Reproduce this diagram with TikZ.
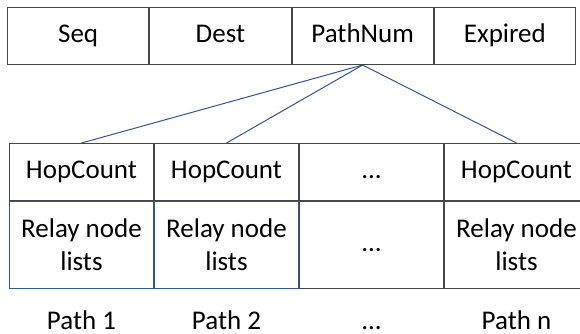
\documentclass[tikz,border=0pt]{standalone}
\usepackage{fontspec}
\setmainfont{Carlito}
\usetikzlibrary{positioning}
\definecolor{cellgray}{RGB}{70,70,70}
\definecolor{linkblue}{RGB}{47,85,151}

\begin{document}
\begin{tikzpicture}[x=0.5pt, y=-0.5pt, node distance=0pt,
  every node/.style={font=\fontsize{13.5}{16.5}\selectfont},
  txt/.style={text height=9.5pt, text depth=3pt},
  field/.style={rectangle, txt, draw=cellgray, line width=0.5pt, minimum width=70.625pt, minimum height=28.5pt, inner sep=0pt},
  hop/.style={rectangle, txt, draw=cellgray, line width=0.5pt, minimum width=72pt, minimum height=28.5pt, inner sep=0pt},
  relay/.style={rectangle, draw=cellgray, line width=0.5pt, minimum width=72pt, minimum height=43.5pt, inner sep=0pt, align=center},
  link/.style={draw=linkblue, line width=0.5pt}]
  \path[use as bounding box] (0,0) rectangle (580,333);
  \clip (0,0) rectangle (580,333);
  % route entry
  \node (seq) [field, anchor=north west] at (7,7) {Seq};
  \node (dest) [field, right=of seq] {Dest};
  \node (pathnum) [field, right=of dest] {PathNum};
  \node (expired) [field, right=of pathnum] {Expired};
  % paths
  \node (hop1) [hop, anchor=north west] at (9,143) {HopCount};
  \node (hop2) [hop, right=of hop1] {HopCount};
  \node (hop3) [hop, right=of hop2] {...};
  \node (hop4) [hop, right=of hop3] {HopCount};
  \node (relay3) [relay, txt, below=of hop3] {...};
  \node (relay4) [relay, below=of hop4] {Relay node\\lists};
  \node (relay1) [relay, draw=linkblue, below=of hop1] {Relay node\\lists};
  \node (relay2) [relay, draw=linkblue, below=of hop2] {Relay node\\lists};
  \node (path1) [txt, below=7pt of relay1] {Path 1};
  \node (path2) [txt, below=7pt of relay2] {Path 2};
  \node (path3) [txt, below=7pt of relay3] {...};
  \node (path4) [txt, below=7pt of relay4] {Path n};
  \draw[link] (pathnum.south) -- (hop1.north);
  \draw[link] (pathnum.south) -- (hop2.north);
  \draw[link] (pathnum.south) -- (hop4.north);
\end{tikzpicture}
\end{document}
